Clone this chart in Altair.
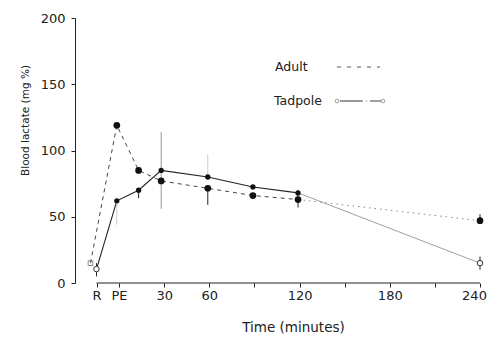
import altair as alt
import pandas as pd

# ---- data ----
adult_t = [-19, -1.5, 13, 28, 59, 89, 119, 240]
adult_v = [15, 119, 85, 77, 71.5, 66, 63, 47]
tad_t = [-15, -1.5, 13, 28, 59, 89, 119, 240]
tad_v = [10.5, 62, 70, 85, 80, 72.5, 68, 15]

adult_err_t = [59, 119, 240]
adult_err_lo = [59, 57, 47]
adult_err_hi = [72, 70, 52]

tad_err_t = [-15, 13, 240]
tad_err_lo = [5, 64, 10]
tad_err_hi = [15, 70, 20]
tad_bar30_t = [28]
tad_bar30_lo = [56]
tad_bar30_hi = [114]
tad_faint_t = [-1.5, 59]
tad_faint_lo = [44, 80]
tad_faint_hi = [62, 97]

x_ticks = [-15, 0, 30, 60, 90, 120, 150, 180, 210, 240]
y_ticks = [0, 50, 100, 150, 200]

FONT = "DejaVu Sans"
INK = "#222222"

xscale = alt.Scale(domain=[-29.3, 240], nice=False, zero=False)
yscale = alt.Scale(domain=[0, 200], nice=False)

xaxis = alt.Axis(
    values=x_ticks,
    labelExpr="datum.value == -15 ? 'R' : datum.value == 0 ? 'PE' : "
              "(datum.value == 90 || datum.value == 150 || datum.value == 210) ? '' : datum.label",
    labelOffset={"condition": {"test": "datum.value == 240", "value": -6}, "value": 0},
    domain=False, grid=False, tickSize=4, tickColor=INK, labelColor=INK,
    labelFont=FONT, labelFontSize=13, labelPadding=2, labelFlush=False,
    title="Time (minutes)", titleFont=FONT, titleFontSize=13.5, titleFontWeight="normal",
    titleColor=INK, titleX=218, titleY=48, titleAlign="center", titleBaseline="alphabetic",
    titleAnchor="start",
)
yaxis = alt.Axis(
    values=y_ticks, domain=True, domainColor=INK, grid=False, tickSize=4, tickColor=INK,
    labelColor=INK, labelFont=FONT, labelFontSize=13, labelPadding=6,
    title="Blood lactate (mg %)", titleFont=FONT, titleFontSize=10.5,
    titleFontWeight="normal", titleColor=INK, titleX=-50, titleY=102,
    titleAlign="center", titleBaseline="middle", titleAnchor="start",
)

X = alt.X("t:Q", scale=xscale, axis=xaxis)
Y = alt.Y("v:Q", scale=yscale, axis=yaxis)

adult = pd.DataFrame({"t": adult_t, "v": adult_v})
tad = pd.DataFrame({"t": tad_t, "v": tad_v})

# baseline of x axis (from R to 240)
base = pd.DataFrame({"t": [x_ticks[0]], "t2": [x_ticks[-1]], "v": [0]})
baseline = alt.Chart(base).mark_rule(color=INK, strokeWidth=1).encode(
    x=X, x2="t2:Q", y=Y
)

adult_l1 = alt.Chart(adult.iloc[:7]).mark_line(
    color="#444444", strokeWidth=1, strokeDash=[4, 4]
).encode(x=X, y=Y)
adult_l2 = alt.Chart(adult.iloc[6:]).mark_line(
    color="#888888", strokeWidth=1, strokeDash=[1.5, 4]
).encode(x=X, y=Y)
tad_l1 = alt.Chart(tad.iloc[:7]).mark_line(color="#222222", strokeWidth=1.1).encode(x=X, y=Y)
tad_l2 = alt.Chart(tad.iloc[6:]).mark_line(color="#888888", strokeWidth=0.8).encode(x=X, y=Y)

aerr = pd.DataFrame({"t": adult_err_t, "v": adult_err_lo, "v2": adult_err_hi})
terr = pd.DataFrame({"t": tad_err_t, "v": tad_err_lo, "v2": tad_err_hi})
tbar30 = pd.DataFrame({"t": tad_bar30_t, "v": tad_bar30_lo, "v2": tad_bar30_hi})
tfaint = pd.DataFrame({"t": tad_faint_t, "v": tad_faint_lo, "v2": tad_faint_hi})

aerr_m = alt.Chart(aerr).mark_rule(color=INK, strokeWidth=1).encode(x=X, y=Y, y2="v2:Q")
terr_m = alt.Chart(terr).mark_rule(color=INK, strokeWidth=1).encode(x=X, y=Y, y2="v2:Q")
tbar30_m = alt.Chart(tbar30).mark_rule(color="#999999", strokeWidth=1).encode(x=X, y=Y, y2="v2:Q")
tfaint_m = alt.Chart(tfaint).mark_rule(color="#cccccc", strokeWidth=1).encode(x=X, y=Y, y2="v2:Q")

adult_pts = alt.Chart(adult.iloc[1:]).mark_point(
    shape="circle", filled=True, size=45, color="#111111", opacity=1
).encode(x=X, y=Y)
adult_r = alt.Chart(adult.iloc[:1]).mark_point(
    shape="square", filled=False, size=22, color="#555555", strokeWidth=1
).encode(x=X, y=Y)
tad_pts = alt.Chart(tad.iloc[1:7]).mark_point(
    shape="circle", filled=True, size=28, color="#111111", opacity=1
).encode(x=X, y=Y)
tad_open = alt.Chart(tad.iloc[[0, 7]]).mark_point(
    shape="circle", filled=True, size=30, color="white", stroke="#333333",
    strokeWidth=1, opacity=1
).encode(x=X, y=Y)

# ---- hand-drawn style legend ----
one = alt.Data(values=[{}])
leg_text = alt.Chart(one).mark_text(
    font=FONT, fontSize=12.5, color=INK, align="left", baseline="middle"
)
leg_adult = leg_text.encode(x=alt.value(200), y=alt.value(49), text=alt.value("Adult"))
leg_tad = leg_text.encode(x=alt.value(199), y=alt.value(83), text=alt.value("Tadpole"))
leg_adult_line = alt.Chart(one).mark_rule(
    color="#555555", strokeWidth=1, strokeDash=[4, 6]
).encode(x=alt.value(262), x2=alt.value(305), y=alt.value(49))
leg_tad_line1 = alt.Chart(one).mark_rule(color="#333333", strokeWidth=1).encode(
    x=alt.value(265), x2=alt.value(287), y=alt.value(83))
leg_tad_line2 = alt.Chart(one).mark_rule(color="#777777", strokeWidth=1, strokeDash=[1, 3]).encode(
    x=alt.value(287), x2=alt.value(294), y=alt.value(83))
leg_tad_line3 = alt.Chart(one).mark_rule(color="#444444", strokeWidth=1).encode(
    x=alt.value(295), x2=alt.value(306), y=alt.value(83))
leg_tad_c1 = alt.Chart(one).mark_point(
    shape="circle", size=14, filled=False, color="#555555", strokeWidth=0.8
).encode(x=alt.value(262), y=alt.value(83))
leg_tad_c2 = alt.Chart(one).mark_point(
    shape="circle", size=14, filled=False, color="#555555", strokeWidth=0.8
).encode(x=alt.value(308), y=alt.value(83))

chart = alt.layer(
    baseline,
    adult_l1, adult_l2, tad_l1, tad_l2,
    tfaint_m, tbar30_m, aerr_m, terr_m,
    adult_pts, adult_r, tad_pts, tad_open,
    leg_adult, leg_tad, leg_adult_line,
    leg_tad_line1, leg_tad_line2, leg_tad_line3, leg_tad_c1, leg_tad_c2,
).properties(
    width=405, height=265,
    background="white",
    autosize=alt.AutoSizeParams(type="none"),
    padding={"left": 67, "top": 10, "right": 8, "bottom": 51},
).configure_view(stroke=None)

chart.save("out.html", embed_options={"renderer": "svg", "actions": False})
